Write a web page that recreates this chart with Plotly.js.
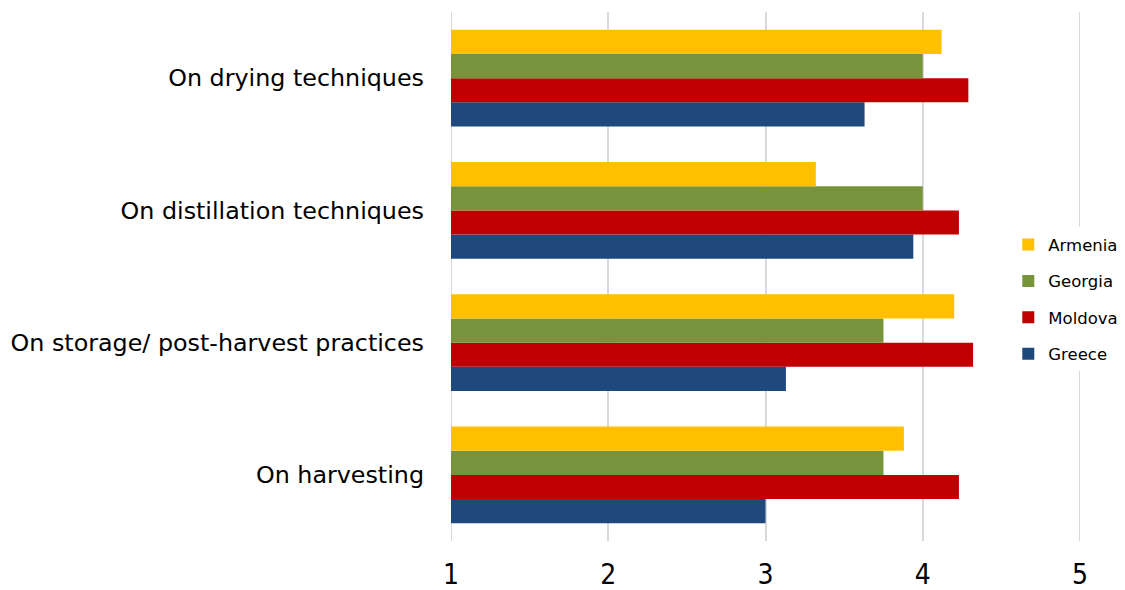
<!DOCTYPE html>
<html>
<head>
<meta charset="utf-8">
<script src="https://cdn.plot.ly/plotly-3.0.1.min.js"></script>
<style>html,body{margin:0;padding:0;background:#fff;}#chart{width:1125px;height:590px;}</style>
</head>
<body>
<div id="chart"></div>
<script>
const categories = ["On harvesting", "On storage/ post-harvest practices", "On distillation techniques", "On drying techniques"];
const armenia = [3.88, 4.20, 3.32, 4.12];
const georgia = [3.75, 3.75, 4.00, 4.00];
const moldova = [4.23, 4.32, 4.23, 4.29];
const greece  = [3.00, 3.13, 3.94, 3.63];
const xTicks = [1, 2, 3, 4, 5];
const seriesNames = ["Greece", "Moldova", "Georgia", "Armenia"];
const seriesColors = ["#1F497D", "#C00000", "#77933C", "#FFC000"];
const seriesValues = [greece, moldova, georgia, armenia];

const traces = seriesValues.map((vals, i) => ({
  type: "bar",
  orientation: "h",
  name: seriesNames[i],
  legendgroup: "g" + i,
  legendrank: 100 - i,
  y: categories,
  x: vals.map(v => v - 1),
  base: 1,
  marker: {color: seriesColors[i]},
  hoverinfo: "x+y+name"
}));

// edge grid lines (Plotly hides grid lines that sit on the plot edges)
const edgeLines = [xTicks[0], xTicks[xTicks.length - 1]].map(v => ({
  type: "line", layer: "below",
  xref: "x", yref: "paper",
  x0: v, x1: v, y0: 0, y1: 1,
  line: {color: "#d9d9d9", width: 2}
}));

const layout = {
  width: 1125,
  height: 590,
  margin: {l: 451, r: 45, t: 12, b: 49, autoexpand: false},
  paper_bgcolor: "#fff",
  plot_bgcolor: "#fff",
  barmode: "group",
  bargap: 0.27,
  bargroupgap: 0,
  showlegend: true,
  shapes: edgeLines,
  legend: {
    traceorder: "grouped",
    x: 0.886, xanchor: "left",
    y: 0.457, yanchor: "middle",
    bgcolor: "#fff",
    font: {family: "DejaVu Sans", size: 16.5, color: "#000"},
    itemwidth: 30,
    tracegroupgap: 12
  },
  xaxis: {
    range: [1, 5],
    tickvals: xTicks,
    ticktext: xTicks.map(String),
    showgrid: true,
    gridcolor: "#d9d9d9",
    gridwidth: 2,
    zeroline: false,
    showline: false,
    ticks: "",
    tickfont: {family: "Liberation Sans Narrow, DejaVu Sans Condensed", size: 28, color: "#000"},
    ticklabelstandoff: 14
  },
  yaxis: {
    showgrid: false,
    zeroline: false,
    showline: false,
    ticks: "",
    tickfont: {family: "DejaVu Sans", size: 23.8, color: "#000"},
    ticklabelstandoff: 26
  },
  font: {family: "DejaVu Sans", color: "#000"}
};

Plotly.newPlot("chart", traces, layout, {displayModeBar: false, staticPlot: true});
</script>
</body>
</html>
